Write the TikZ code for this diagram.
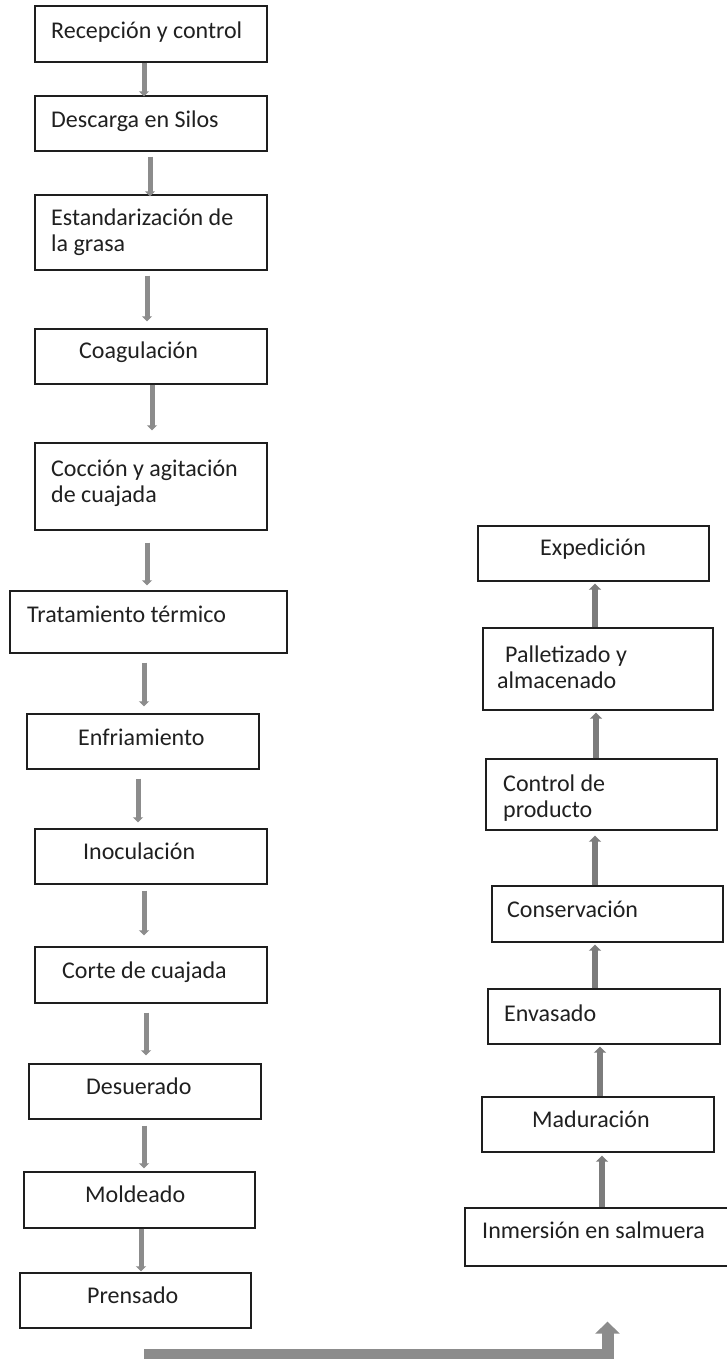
\documentclass[tikz,border=0pt]{standalone}
\usepackage{fontspec}
\setmainfont{Carlito}
\usetikzlibrary{arrows.meta,fit}
\definecolor{boxline}{HTML}{1E1E1E}
\definecolor{txtcol}{HTML}{202020}
\definecolor{flowgray}{HTML}{8C8C8C}
\definecolor{upgray}{HTML}{7C7C7C}
\tikzset{
  stepbox/.style={draw=boxline, line width=1.3pt, inner sep=0pt, fill=white},
  lbl/.style={anchor=base west, inner sep=0pt, text=txtcol, align=left,
    font=\fontsize{24}{26}\selectfont},
  downarrow/.style={draw=flowgray, line width=5pt,
    -{Triangle[width=10pt,length=5pt]}},
  uparrow/.style={draw=upgray, line width=6pt,
    -{Triangle[width=12pt,length=6pt]}},
  bigarrow/.style={draw=flowgray, line width=12pt, line join=miter,
    -{Triangle[width=24pt,length=12pt]}}
}
\begin{document}
\begin{tikzpicture}[x=1pt, y=-1pt]
\useasboundingbox (0,0) rectangle (727,1359);

% left column: boxes
\node[stepbox, fit={(35,6) (267,62)}] (b1) {};
\node[stepbox, fit={(35,96) (267,151)}] (b2) {};
\node[stepbox, fit={(35,195) (267,270)}] (b3) {};
\node[stepbox, fit={(35,329) (267,384)}] (b4) {};
\node[stepbox, fit={(35,443) (267,530)}] (b5) {};
\node[stepbox, fit={(10,591) (287,653)}] (b6) {};
\node[stepbox, fit={(27,714) (259,769)}] (b7) {};
\node[stepbox, fit={(35,829) (267,884)}] (b8) {};
\node[stepbox, fit={(35,947) (267,1003)}] (b9) {};
\node[stepbox, fit={(29,1064) (261,1119)}] (b10) {};
\node[stepbox, fit={(24,1172) (255,1228)}] (b11) {};
\node[stepbox, fit={(20,1273) (251,1328)}] (b12) {};

% right column: boxes
\node[stepbox, fit={(478,526) (709,581)}] (r1) {};
\node[stepbox, fit={(483,628) (713,710)}] (r2) {};
\node[stepbox, fit={(486,759) (717,830)}] (r3) {};
\node[stepbox, fit={(492,886) (723,942)}] (r4) {};
\node[stepbox, fit={(488,989) (720,1044)}] (r5) {};
\node[stepbox, fit={(482,1097) (714,1152)}] (r6) {};
\node[stepbox, fit={(465,1208) (730,1266)}] (r7) {};

% labels (two-line labels are placed by the baseline of their last line)
\node[lbl] (t1) at (51,38.5) {Recepción y control};
\node[lbl] (t2) at (51,128) {Descarga en Silos};
\node[lbl] (t3) at (51,251) {Estandarización de\\la grasa};
\node[lbl] (t4) at (79,358) {Coagulación};
\node[lbl] (t5) at (51,502) {Cocción y agitación\\de cuajada};
\node[lbl] (t6) at (27,622) {Tratamiento térmico};
\node[lbl] (t7) at (78,745) {Enfriamiento};
\node[lbl] (t8) at (83,859) {Inoculación};
\node[lbl] (t9) at (62,978) {Corte de cuajada};
\node[lbl] (t10) at (86,1094) {Desuerado};
\node[lbl] (t11) at (85,1202) {Moldeado};
\node[lbl] (t12) at (87,1303) {Prensado};

\node[lbl] (s1) at (540,555) {Expedición};
\node[lbl] (s2) at (497,688) {\hspace{8pt}Palletizado y\\almacenado};
\node[lbl] (s3) at (503,817) {Control de\\producto};
\node[lbl] (s4) at (507,917) {Conservación};
\node[lbl] (s5) at (504,1021) {Envasado};
\node[lbl] (s6) at (532,1127) {Maduración};
\node[lbl] (s7) at (482,1238) {Inmersión en salmuera};

% start points of the connectors, just under / over each box
\coordinate (a1) at ([xshift=-7pt]b1.south);
\coordinate (a2) at ([xshift=-1pt]b2.south);
\coordinate (a3) at ([xshift=-4pt]b3.south);
\coordinate (a4) at ([xshift=1pt]b4.south);
\coordinate (a5) at ([xshift=-4pt]b5.south);
\coordinate (a6) at ([xshift=-4.5pt]b6.south);
\coordinate (a7) at ([xshift=-5pt]b7.south);
\coordinate (a8) at ([xshift=-7pt]b8.south);
\coordinate (a9) at ([xshift=-5pt]b9.south);
\coordinate (a10) at ([xshift=-1pt]b10.south);
\coordinate (a11) at ([xshift=1.5pt]b11.south);

\coordinate (u7) at ([xshift=4.5pt]r7.north);
\coordinate (u6) at ([xshift=2pt]r6.north);
\coordinate (u5) at ([xshift=-9pt]r5.north);
\coordinate (u4) at ([xshift=-12.5pt]r4.north);
\coordinate (u3) at ([xshift=-5.5pt]r3.north);
\coordinate (u2) at ([xshift=-3pt]r2.north);

% downward flow on the left
\draw[downarrow, shorten >=-1pt] (a1) -- (a1 |- b2.north);
\draw[downarrow, shorten <=5pt, shorten >=-2pt] (a2) -- (a2 |- b3.north);
\draw[downarrow, shorten <=5pt, shorten >=7pt] (a3) -- (a3 |- b4.north);
\draw[downarrow, shorten >=12pt] (a4) -- (a4 |- b5.north);
\draw[downarrow, shorten <=12pt, shorten >=5pt] (a5) -- (a5 |- b6.north);
\draw[downarrow, shorten <=9pt, shorten >=7pt] (a6) -- (a6 |- b7.north);
\draw[downarrow, shorten <=9pt, shorten >=6pt] (a7) -- (a7 |- b8.north);
\draw[downarrow, shorten <=6pt, shorten >=11pt] (a8) -- (a8 |- b9.north);
\draw[downarrow, shorten <=9pt, shorten >=8pt] (a9) -- (a9 |- b10.north);
\draw[downarrow, shorten <=6pt, shorten >=3pt] (a10) -- (a10 |- b11.north);
\draw[downarrow, shorten >=1pt] (a11) -- (a11 |- b12.north);

% upward flow on the right
\draw[uparrow, shorten >=3pt] (u7) -- (u7 |- r6.south);
\draw[uparrow, shorten >=2pt] (u6) -- (u6 |- r5.south);
\draw[uparrow, shorten >=2pt] (u5) -- (u5 |- r4.south);
\draw[uparrow, shorten >=5pt] (u4) -- (u4 |- r3.south);
\draw[uparrow, shorten >=2pt] (u3) -- (u3 |- r2.south);
\draw[uparrow, shorten >=2pt] (u2) -- (u2 |- r1.south);

% link from the bottom of the left column to the right column
\coordinate (bend) at (144,1355);
\draw[bigarrow, shorten >=55pt] (bend) -| ([xshift=10pt]r7.south);
\end{tikzpicture}
\end{document}
